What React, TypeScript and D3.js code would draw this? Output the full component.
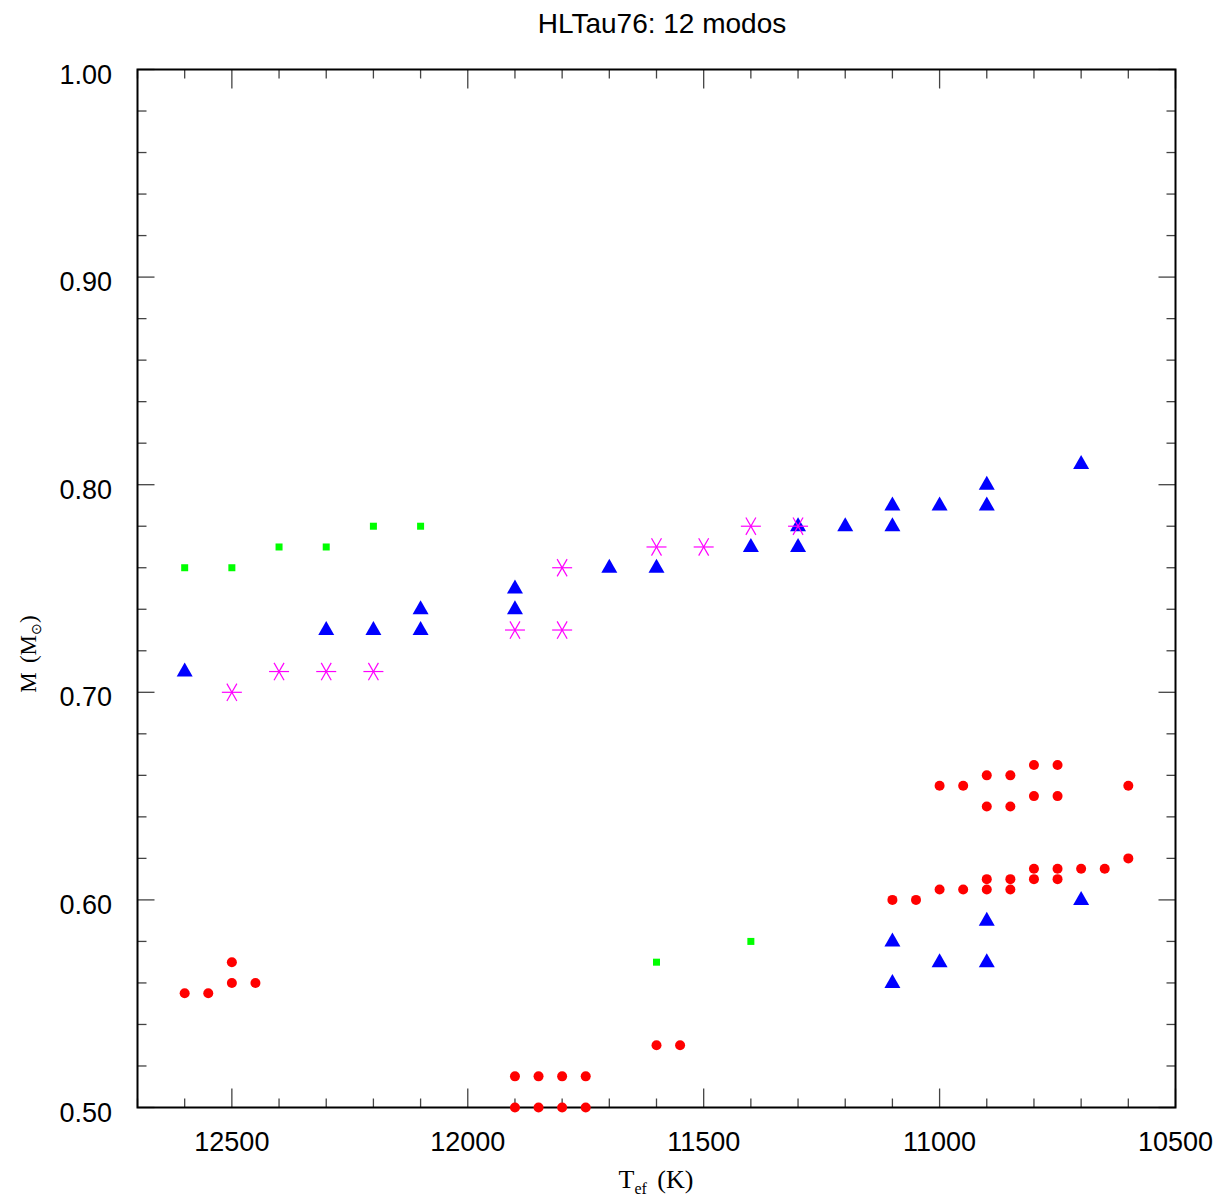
import React from "react";
import * as d3 from "d3";

const W = 1219;
const H = 1198;

const TITLE = "HLTau76: 12 modos";
const X_TICKS = [12500, 12000, 11500, 11000, 10500];
const Y_TICKS = [0.5, 0.6, 0.7, 0.8, 0.9, 1.0];

// green squares
const greenT = [12600, 12500, 12400, 12300, 12200, 12100, 11600, 11400];
const greenM = [0.76, 0.76, 0.77, 0.77, 0.78, 0.78, 0.57, 0.58];

// blue triangles
const blueT = [12600, 12300, 12200, 12100, 12100, 11900, 11900, 11700, 11600, 11400, 11300, 11300, 11200, 11100, 11100, 11000, 10900, 10900, 10700,
  11100, 11100, 11000, 10900, 10900, 10700];
const blueM = [0.71, 0.73, 0.73, 0.73, 0.74, 0.74, 0.75, 0.76, 0.76, 0.77, 0.77, 0.78, 0.78, 0.78, 0.79, 0.79, 0.79, 0.80, 0.81,
  0.58, 0.56, 0.57, 0.59, 0.57, 0.60];

// magenta asterisks
const magT = [12500, 12400, 12300, 12200, 11900, 11800, 11800, 11600, 11500, 11400, 11300];
const magM = [0.70, 0.71, 0.71, 0.71, 0.73, 0.73, 0.76, 0.77, 0.77, 0.78, 0.78];

// red circles
const redT = [12600, 12550, 12500, 12500, 12450,
  11900, 11850, 11800, 11750, 11900, 11850, 11800, 11750,
  11600, 11550,
  11100, 11050,
  11000, 10950, 10900, 10850,
  10900, 10850, 10800, 10750,
  10800, 10750, 10700, 10650,
  10600,
  11000, 10950, 10900, 10850, 10800, 10750, 10900, 10850, 10800, 10750, 10600];
const redM = [0.555, 0.555, 0.57, 0.56, 0.56,
  0.515, 0.515, 0.515, 0.515, 0.50, 0.50, 0.50, 0.50,
  0.53, 0.53,
  0.60, 0.60,
  0.605, 0.605, 0.605, 0.605,
  0.61, 0.61, 0.61, 0.61,
  0.615, 0.615, 0.615, 0.615,
  0.62,
  0.655, 0.655, 0.66, 0.66, 0.665, 0.665, 0.645, 0.645, 0.65, 0.65, 0.655];

const L = 137.5, R = 1175.5, T = 69.5, B = 1107.5;

export default function App() {
  const x = d3.scaleLinear().domain([12700, 10500]).range([L, R]);
  const y = d3.scaleLinear().domain([0.5, 1.0]).range([B, T]);

  const xMinor = d3.range(10500, 12701, 100);
  const yMinor = d3.range(0, 26).map((i) => 0.5 + i * 0.02);

  const sans = "'Liberation Sans', Arial, Helvetica, sans-serif";
  const serif = "'Liberation Serif', 'Times New Roman', serif";
  const tickColor = "#444";

  const isMajorX = (v: number) => Math.abs(v % 500) < 1e-6;
  const isMajorY = (v: number) => Math.abs(Math.round(v * 10) - v * 10) < 1e-6;

  const tri = (cx: number, cy: number) => `M${cx},${cy - 9}L${cx + 8},${cy + 5}L${cx - 8},${cy + 5}Z`;

  return (
    <svg width={W} height={H} style={{ position: "absolute", left: 0, top: 0, background: "#fff" }}>
      <rect x={0} y={0} width={W} height={H} fill="#fff" />
      <text x={662} y={33} textAnchor="middle" fontFamily={sans} fontSize={28} fill="#000">{TITLE}</text>

      {/* ticks */}
      {xMinor.map((v) => {
        const len = isMajorX(v) ? 19 : 9;
        const px = x(v);
        return (
          <g key={"xt" + v}>
            <line x1={px} x2={px} y1={B} y2={B - len} stroke={tickColor} strokeWidth={1.3} />
            <line x1={px} x2={px} y1={T} y2={T + len} stroke={tickColor} strokeWidth={1.3} />
          </g>
        );
      })}
      {yMinor.map((v) => {
        const len = isMajorY(v) ? 17 : 9;
        const py = y(v);
        return (
          <g key={"yt" + v.toFixed(2)}>
            <line x1={L} x2={L + len} y1={py} y2={py} stroke={tickColor} strokeWidth={1.3} />
            <line x1={R} x2={R - len} y1={py} y2={py} stroke={tickColor} strokeWidth={1.3} />
          </g>
        );
      })}

      {/* frame */}
      <rect x={L} y={T} width={R - L} height={B - T} fill="none" stroke="#000" strokeWidth={2} />

      {/* tick labels */}
      {X_TICKS.map((v) => (
        <text key={"xl" + v} x={x(v)} y={B + 43} textAnchor="middle" fontFamily={sans} fontSize={27} fill="#000">{v}</text>
      ))}
      {Y_TICKS.map((v) => (
        <text key={"yl" + v} x={112} y={y(v) + 14} textAnchor="end" fontFamily={sans} fontSize={27} fill="#000">{v.toFixed(2)}</text>
      ))}

      {/* axis labels */}
      <text x={656} y={1188} textAnchor="middle" fontFamily={serif} fontSize={26} fill="#000">
        T<tspan fontSize={16} dy={6}>ef</tspan><tspan dy={-6}>{"\u2009\u2009(K)"}</tspan>
      </text>
      <text transform="translate(36,654) rotate(-90)" textAnchor="middle" fontFamily={serif} fontSize={23} fill="#000">
        M{"\u2009\u2009(M"}<tspan fontSize={14} dy={5}>{"\u2299"}</tspan><tspan dy={-5}>)</tspan>
      </text>

      {/* green squares */}
      {greenT.map((t, i) => (
        <rect key={"g" + i} x={x(t) - 3.5} y={y(greenM[i]) - 3.5} width={7} height={7} fill="#00ff00" />
      ))}
      {/* red circles */}
      {redT.map((t, i) => (
        <circle key={"r" + i} cx={x(t)} cy={y(redM[i])} r={5} fill="#ff0000" />
      ))}
      {/* blue triangles */}
      {blueT.map((t, i) => (
        <path key={"b" + i} d={tri(x(t), y(blueM[i]))} fill="#0000ff" />
      ))}
      {/* magenta asterisks */}
      {magT.map((t, i) => {
        const cx = x(t), cy = y(magM[i]);
        return (
          <g key={"m" + i} stroke="#ff00ff" strokeWidth={1.2}>
            {[0, 60, 120].map((a) => {
              const r = (a * Math.PI) / 180;
              const dx = 10 * Math.cos(r), dy = 10 * Math.sin(r);
              return <line key={a} x1={cx - dx} y1={cy - dy} x2={cx + dx} y2={cy + dy} />;
            })}
          </g>
        );
      })}
    </svg>
  );
}
